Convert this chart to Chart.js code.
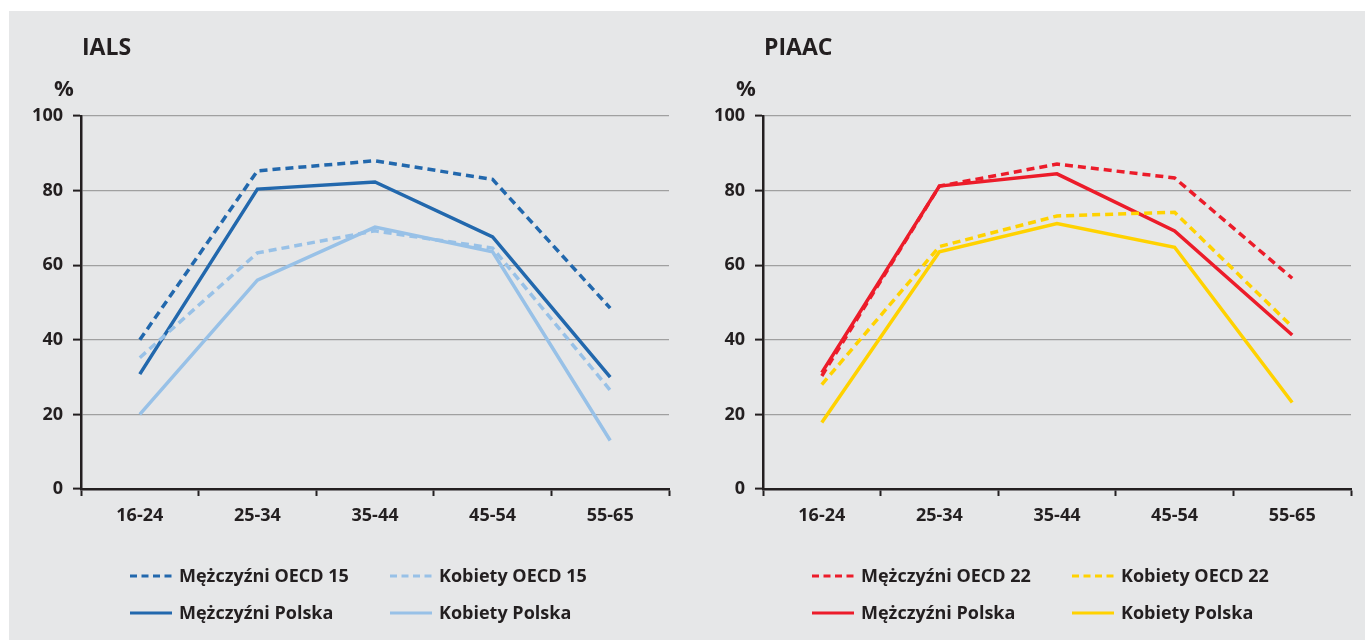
<!DOCTYPE html>
<html>
<head>
<meta charset="utf-8">
<script src="https://cdn.jsdelivr.net/npm/chart.js@4/dist/chart.umd.min.js"></script>
<style>
  html, body { margin: 0; padding: 0; background: #fff; overflow: hidden; }
  .panel { position: absolute; top: 11px; left: 9px; width: 1356px; height: 629px; background: #e6e7e8; }
  #ialsChart { position: absolute; left: 9px; top: 11px; }
  #piaacChart { position: absolute; left: 691px; top: 11px; }
</style>
</head>
<body>
<div class="panel"></div>
<canvas id="ialsChart" width="682" height="629"></canvas>
<canvas id="piaacChart" width="674" height="629"></canvas>
<script>
const ageGroups = ['16-24', '25-34', '35-44', '45-54', '55-65'];

// IALS
const ialsMenOecd = [40, 85.3, 88, 83, 48.5];
const ialsWomenOecd = [35.2, 63.3, 69.2, 64.6, 26.5];
const ialsMenPl = [30.8, 80.4, 82.3, 67.6, 30];
const ialsWomenPl = [20, 56, 70.2, 63.6, 13];

// PIAAC
const piaacMenOecd = [30.3, 81.2, 87.1, 83.4, 56.5];
const piaacWomenOecd = [28, 65, 73.2, 74.2, 43.5];
const piaacMenPl = [31.2, 81.2, 84.5, 69.2, 41.3];
const piaacWomenPl = [17.8, 63.6, 71.2, 64.8, 23.2];

const yMin = 0, yMax = 100, yStep = 20;

const ink = '#231f20';
const gridGray = '#a0a0a0';
const FONT = '"Open Sans", "Noto Sans", sans-serif';

function line(label, data, color, dashed) {
    return {
        label: label,
        data: data,
        borderColor: color,
        backgroundColor: color,
        borderWidth: 3.5,
        borderDash: dashed ? [8, 5] : [],
        pointRadius: 0,
        tension: 0,
        fill: false,
        borderJoinStyle: 'miter'
    };
}

// titles, "%" and the 2x2 legend
const overlay = {
    id: 'overlay',
    afterDraw(chart, args, opts) {
        const ctx = chart.ctx;
        const a = chart.chartArea;
        ctx.save();
        ctx.fillStyle = ink;
        ctx.textBaseline = 'alphabetic';
        ctx.textAlign = 'left';
        ctx.font = '700 23px ' + FONT;
        ctx.fillText(opts.title, a.left + 1, a.top - 61);
        ctx.font = '700 22px ' + FONT;
        ctx.fillText('%', a.left - 27, a.top - 20);

        const rows = [a.top + 460, a.top + 497];
        const cols = [a.left + 49, a.left + 309];
        ctx.font = '700 18px ' + FONT;
        ctx.textBaseline = 'middle';
        chart.data.datasets.forEach((ds, i) => {
            const x = cols[i % 2];
            const y = rows[Math.floor(i / 2)];
            ctx.strokeStyle = ds.borderColor;
            ctx.lineWidth = 3;
            ctx.setLineDash(ds.borderDash.length ? [7, 4.5] : []);
            ctx.beginPath();
            ctx.moveTo(x, y);
            ctx.lineTo(x + 42, y);
            ctx.stroke();
            ctx.setLineDash([]);
            ctx.fillStyle = ink;
            ctx.fillText(ds.label, x + 49, y + 1);
        });
        ctx.restore();
    }
};

function makeChart(id, title, datasets, canvasWidth) {
    return new Chart(document.getElementById(id), {
        type: 'line',
        data: { labels: ageGroups, datasets: datasets },
        plugins: [overlay],
        options: {
            responsive: false,
            animation: false,
            layout: { padding: { top: 105, left: 0, right: canvasWidth - 660, bottom: 0 } },
            plugins: {
                legend: { display: false },
                tooltip: { enabled: false },
                overlay: { title: title }
            },
            scales: {
                x: {
                    offset: true,
                    afterFit: (scale) => { scale.height = 151; },
                    grid: {
                        offset: true,
                        drawOnChartArea: false,
                        drawTicks: true,
                        tickLength: 7,
                        tickColor: ink,
                        tickWidth: 2
                    },
                    border: { color: ink, width: 2.5 },
                    ticks: { color: ink, padding: 9, font: { family: FONT, size: 18, weight: '700' } }
                },
                y: {
                    min: yMin,
                    max: yMax,
                    afterFit: (scale) => { scale.width = 72; },
                    grid: {
                        color: gridGray,
                        lineWidth: 1.2,
                        tickLength: 8,
                        tickColor: ink,
                        tickWidth: 2
                    },
                    border: { color: ink, width: 2.5 },
                    ticks: {
                        stepSize: yStep,
                        color: ink,
                        padding: 10,
                        font: { family: FONT, size: 18, weight: '700' }
                    }
                }
            }
        }
    });
}

makeChart('ialsChart', 'IALS', [
    line('Mężczyźni OECD 15', ialsMenOecd, '#2268ad', true),
    line('Kobiety OECD 15', ialsWomenOecd, '#98c1e7', true),
    line('Mężczyźni Polska', ialsMenPl, '#2268ad', false),
    line('Kobiety Polska', ialsWomenPl, '#98c1e7', false)
], 682);

makeChart('piaacChart', 'PIAAC', [
    line('Mężczyźni OECD 22', piaacMenOecd, '#ec1c2a', true),
    line('Kobiety OECD 22', piaacWomenOecd, '#ffd200', true),
    line('Mężczyźni Polska', piaacMenPl, '#ec1c2a', false),
    line('Kobiety Polska', piaacWomenPl, '#ffd200', false)
], 674);
</script>
</body>
</html>
